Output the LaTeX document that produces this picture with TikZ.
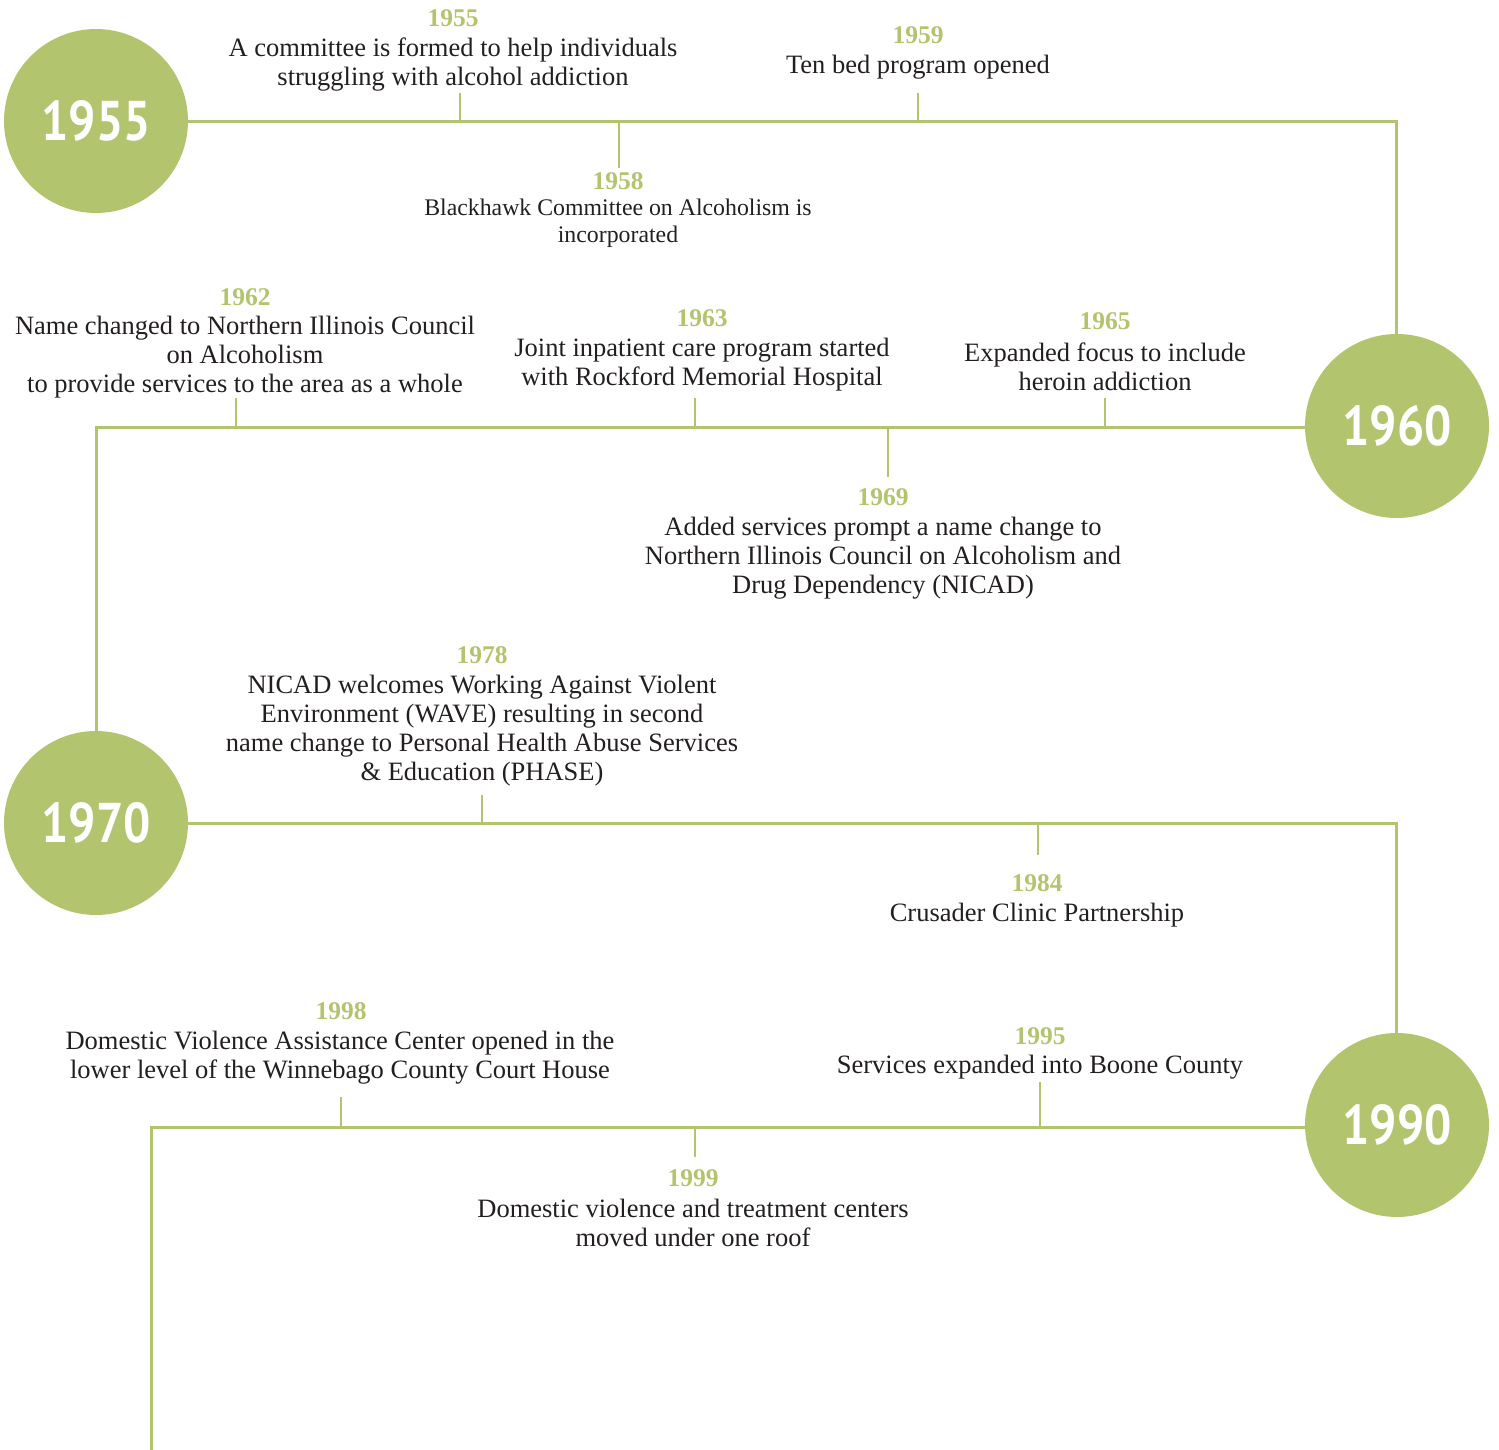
\documentclass[tikz,border=0pt]{standalone}
\usepackage{fontspec}
\setmainfont{Liberation Serif}
\newfontfamily\circfont{PT Sans}
\definecolor{tlgreen}{HTML}{B3C46E}
\definecolor{tltext}{HTML}{231F20}
\begin{document}
\begin{tikzpicture}[x=1pt,y=-1pt,
  yearcircle/.style={circle,fill=tlgreen,minimum size=184pt,inner sep=0pt,
    text=white,font=\circfont\bfseries\fontsize{56}{56}\selectfont},
  tline/.style={draw=tlgreen,line width=3pt},
  tick/.style={draw=tlgreen,line width=2.6pt},
  yearlbl/.style={text=tlgreen,font=\bfseries\fontsize{25.5}{25.5}\selectfont,inner sep=0pt,anchor=base},
  evtext/.style={text=tltext,font=\fontsize{26.5}{29}\selectfont,align=center,inner sep=0pt},
  evsmall/.style={text=tltext,font=\fontsize{23.8}{27}\selectfont,align=center,inner sep=0pt}
]
\useasboundingbox (0,0) rectangle (1499,1450);

% circles
\node[yearcircle] (c55) at (96,121) {\scalebox{0.86}[1]{1955}};
\node[yearcircle] (c60) at (1397,426) {\scalebox{0.86}[1]{1960}};
\node[yearcircle] (c70) at (96,823) {\scalebox{0.86}[1]{1970}};
\node[yearcircle] (c90) at (1397,1125) {\scalebox{0.86}[1]{1990}};

% corner coordinates
\coordinate (k1) at (1396,122);
\coordinate (k2) at (96,427);
\coordinate (k3) at (1396,823);
\coordinate (k4) at (151,1127);
\coordinate (kend) at (151,1452);

% main lines
\draw[tline] (c55.east |- k1) -- (k1) -- (k1 |- c60.north);
\draw[tline] (c60.west |- k2) -- (k2) -- (c70.north);
\draw[tline] (c70.east |- k3) -- (k3) -- (k3 |- c90.north);
\draw[tline] (c90.west |- k4) -- (k4) -- (kend);

% ticks
\coordinate (t55a) at (460,122); \coordinate (t55b) at (460,93);
\coordinate (t58a) at (619,122); \coordinate (t58b) at (619,168);
\coordinate (t59a) at (918,122); \coordinate (t59b) at (918,93);
\coordinate (t62a) at (236,427); \coordinate (t62b) at (236,398);
\coordinate (t63a) at (695,427); \coordinate (t63b) at (695,398);
\coordinate (t69a) at (888,427); \coordinate (t69b) at (888,477);
\coordinate (t65a) at (1105,427); \coordinate (t65b) at (1105,398);
\coordinate (t78a) at (482,823); \coordinate (t78b) at (482,795);
\coordinate (t84a) at (1038,823); \coordinate (t84b) at (1038,855);
\coordinate (t98a) at (341,1127); \coordinate (t98b) at (341,1097);
\coordinate (t99a) at (695,1127); \coordinate (t99b) at (695,1157);
\coordinate (t95a) at (1040,1127); \coordinate (t95b) at (1040,1082);
\foreach \t in {55,58,59,62,63,69,65,78,84,98,99,95}
  \draw[tick] (t\t a) -- (t\t b);

% year labels
\node[yearlbl] (y55) at (453,27) {1955};
\node[yearlbl] (y58) at (618,190) {1958};
\node[yearlbl] (y59) at (918,44) {1959};
\node[yearlbl] (y62) at (245,305) {1962};
\node[yearlbl] (y63) at (702,326) {1963};
\node[yearlbl] (y65) at (1105,329) {1965};
\node[yearlbl] (y69) at (883,505) {1969};
\node[yearlbl] (y78) at (482,663) {1978};
\node[yearlbl] (y84) at (1037,891) {1984};
\node[yearlbl] (y98) at (341,1019) {1998};
\node[yearlbl] (y95) at (1040,1044) {1995};
\node[yearlbl] (y99) at (693,1186) {1999};

% event texts
\node[evtext] (e55) at (453,64.5) {A committee is formed to help individuals\\struggling with alcohol addiction};
\node[evsmall] (e58) at (618,223) {Blackhawk Committee on Alcoholism is\\incorporated};
\node[evtext] (e59) at (918,67) {Ten bed program opened};
\node[evtext] (e62) at (245,357.5) {Name changed to Northern Illinois Council\\on Alcoholism\\to provide services to the area as a whole};
\node[evtext] (e63) at (702,364.5) {Joint inpatient care program started\\with Rockford Memorial Hospital};
\node[evtext] (e65) at (1105,367) {Expanded focus to include\\heroin addiction};
\node[evtext] (e69) at (883,558) {Added services prompt a name change to\\Northern Illinois Council on Alcoholism and\\Drug Dependency (NICAD)};
\node[evtext] (e78) at (482,731) {NICAD welcomes Working Against Violent\\Environment (WAVE) resulting in second\\name change to Personal Health Abuse Services\\\& Education (PHASE)};
\node[evtext] (e84) at (1037,915) {Crusader Clinic Partnership};
\node[evtext] (e98) at (340,1057.5) {Domestic Violence Assistance Center opened in the\\lower level of the Winnebago County Court House};
\node[evtext] (e95) at (1040,1067) {Services expanded into Boone County};
\node[evtext] (e99) at (693,1223) {Domestic violence and treatment centers\\moved under one roof};
\end{tikzpicture}
\end{document}
